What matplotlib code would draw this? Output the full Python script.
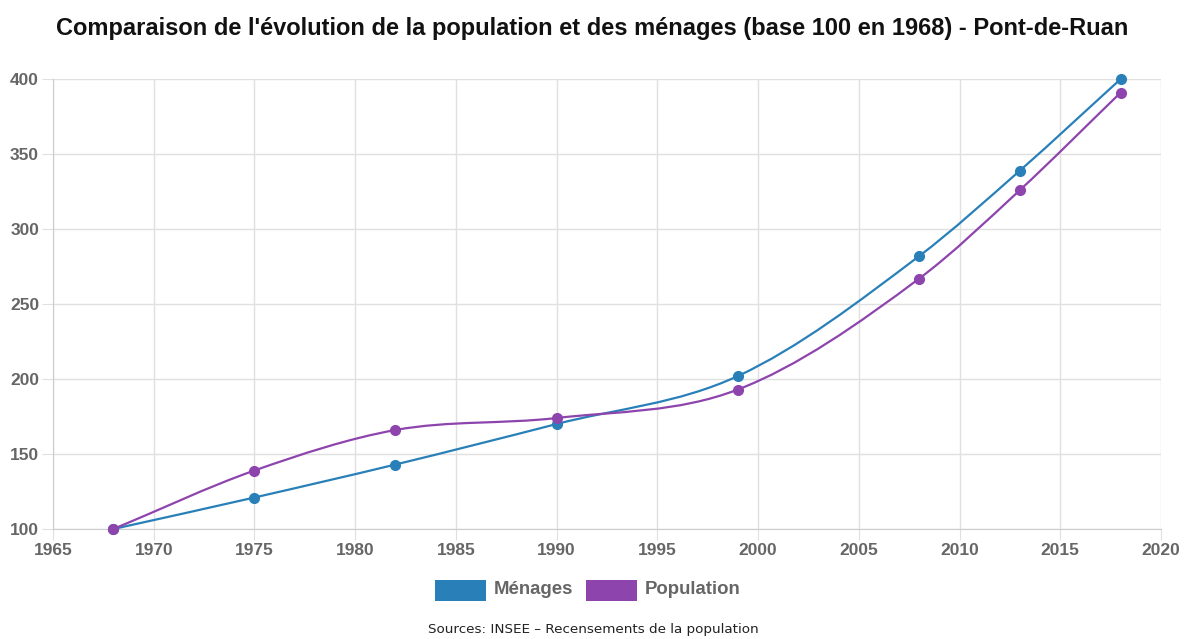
import matplotlib
matplotlib.use("Agg")
import matplotlib.pyplot as plt
from matplotlib.path import Path
from matplotlib.patches import PathPatch, Rectangle

years = [1968, 1975, 1982, 1990, 1999, 2008, 2013, 2018]
menages = [100, 121, 143, 170, 202, 282, 339, 400]
population = [100, 139, 166, 174, 193, 267, 326, 391]

x_ticks = [1965, 1970, 1975, 1980, 1985, 1990, 1995, 2000, 2005, 2010, 2015, 2020]
y_ticks = [100, 150, 200, 250, 300, 350, 400]

title = "Comparaison de l'évolution de la population et des ménages (base 100 en 1968) - Pont-de-Ruan"
source = "Sources: INSEE – Recensements de la population"

BLUE = "#2980b9"
PURPLE = "#8e44ad"
GRID = "#e0e0e0"
TICK_TXT = "#666666"


def monotone_path(xs, ys):
    # same cubic as Chart.js "monotone" interpolation
    n = len(xs)
    delta = [(ys[i + 1] - ys[i]) / (xs[i + 1] - xs[i]) for i in range(n - 1)]
    m = [0.0] * n
    m[0] = delta[0]
    m[-1] = delta[-1]
    for i in range(1, n - 1):
        if delta[i - 1] * delta[i] > 0:
            m[i] = (delta[i - 1] + delta[i]) / 2
    for i in range(n - 1):
        if delta[i] == 0:
            m[i] = m[i + 1] = 0
            continue
        a = m[i] / delta[i]
        b = m[i + 1] / delta[i]
        s = a * a + b * b
        if s > 9:
            t = 3 / s ** 0.5
            m[i] = t * a * delta[i]
            m[i + 1] = t * b * delta[i]
    verts = [(xs[0], ys[0])]
    codes = [Path.MOVETO]
    for i in range(n - 1):
        dx = (xs[i + 1] - xs[i]) / 3
        verts += [(xs[i] + dx, ys[i] + m[i] * dx),
                  (xs[i + 1] - dx, ys[i + 1] - m[i + 1] * dx),
                  (xs[i + 1], ys[i + 1])]
        codes += [Path.CURVE4] * 3
    return Path(verts, codes)


fig = plt.figure(figsize=(11.84, 6.39), dpi=100)
ax = fig.add_axes([53 / 1184, 1 - 529 / 639, (1161 - 53) / 1184, (529 - 79) / 639])

for vals, col in [(menages, BLUE), (population, PURPLE)]:
    ax.add_patch(PathPatch(monotone_path(years, vals), fill=False, edgecolor=col, lw=1.6,
                           zorder=3, clip_on=False))
    ax.plot(years, vals, "o", color=col, markersize=7, zorder=4, clip_on=False)

ax.set_xlim(1965, 2020)
ax.set_ylim(100, 400)
ax.set_xticks(x_ticks)
ax.set_yticks(y_ticks)
ax.grid(True, color=GRID, lw=1)
ax.set_axisbelow(True)
for side in ["top", "right"]:
    ax.spines[side].set_visible(False)
for side in ["left", "bottom"]:
    ax.spines[side].set_color("#cccccc")
ax.tick_params(length=8, color=GRID, labelcolor=TICK_TXT, pad=2, labelsize=12.5)
for lbl in ax.get_xticklabels() + ax.get_yticklabels():
    lbl.set_fontweight("bold")
    lbl.set_fontfamily("Liberation Sans")

fig.text(0.5, 1 - 29 / 639, title, ha="center", va="center",
         fontsize=17, fontweight="bold", family="Liberation Sans", color="#111111")

# legend boxes
for x0, col, name in [(435, BLUE, "Ménages"), (586, PURPLE, "Population")]:
    fig.patches.append(Rectangle((x0 / 1184, 1 - 601 / 639), 51 / 1184, 21 / 639,
                                 transform=fig.transFigure, facecolor=col, edgecolor="none"))
    fig.text((x0 + 59) / 1184, 1 - 590 / 639, name, ha="left", va="center",
             fontsize=13.4, fontweight="bold", family="Liberation Sans", color=TICK_TXT)

fig.text(593 / 1184, 1 - 630 / 639, source, ha="center", va="center",
         fontsize=9.7, family="DejaVu Sans", color="#222222")

fig.savefig("out.png", dpi=100)
